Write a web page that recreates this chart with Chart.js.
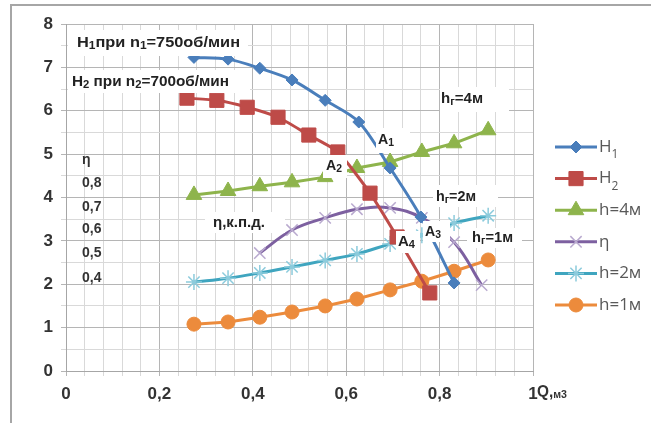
<!DOCTYPE html>
<html>
<head>
<meta charset="utf-8">
<script src="https://cdn.jsdelivr.net/npm/chart.js@4.4.1/dist/chart.umd.min.js"></script>
<style>
  html, body { margin: 0; padding: 0; background: #fff; }
</style>
</head>
<body>
<canvas id="pumpChart" width="651" height="423"></canvas>
<script>
// Q values, m3/s
const qH1 = [0.274, 0.347, 0.415, 0.484, 0.555, 0.627, 0.694, 0.760, 0.831];
const qH2 = [0.259, 0.323, 0.388, 0.454, 0.520, 0.582, 0.651, 0.709, 0.779];
const qPipe = [0.274, 0.347, 0.415, 0.484, 0.555, 0.623, 0.694, 0.762, 0.831, 0.904];
const qEta = [0.415, 0.484, 0.555, 0.623, 0.694, 0.762, 0.831, 0.890];

// heads, m (eta plotted on the same scale)
const headH1 = [7.23, 7.19, 6.98, 6.71, 6.24, 5.74, 4.68, 3.55, 2.03];
const headH2 = [6.29, 6.24, 6.08, 5.85, 5.44, 5.05, 4.10, 3.09, 1.80];
const pipeH4 = [4.06, 4.15, 4.26, 4.35, 4.47, 4.68, 4.82, 5.05, 5.25, 5.55];
const etaVals = [2.72, 3.25, 3.53, 3.73, 3.76, 3.53, 2.97, 1.98];
const pipeH2 = [2.05, 2.14, 2.26, 2.40, 2.55, 2.70, 2.93, 3.13, 3.41, 3.58];
const pipeH1 = [1.08, 1.13, 1.24, 1.36, 1.50, 1.66, 1.87, 2.07, 2.30, 2.56];

const etaTickLabels = ["η", "0,8", "0,7", "0,6", "0,5", "0,4"];

const FONT = "'Liberation Sans Narrow', 'Liberation Sans', Arial, sans-serif";
const LEGEND_FONT = "'Open Sans', 'Liberation Sans', sans-serif";

function pts(xs, ys) {
  return xs.map((x, i) => ({ x: x, y: ys[i] }));
}

// text notes on the plot: [boxX, boxY, boxW, boxH, textX, textY, textW, parts]
const notes = [
  [68, 30, 180, 26, 77, 43, 163, [["H", 0], ["1", 1], ["при n", 0], ["1", 1], ["=750об/мин", 0]]],
  [68, 70, 182, 23, 72, 82, 157, [["H", 0], ["2", 1], [" при n", 0], ["2", 1], ["=700об/мин", 0]]],
  [440, 87, 69, 25, 441, 99, 42, [["h", 0], ["г", 1], ["=4м", 0]]],
  [376, 128, 34, 25, 378, 140, 16, [["A", 0], ["1", 1]]],
  [323, 155, 24, 23, 326, 166, 16, [["A", 0], ["2", 1]]],
  [433, 185, 65, 22, 436, 197, 40, [["h", 0], ["г", 1], ["=2м", 0]]],
  [205, 212, 80, 21, 213, 223, 52, [["η,к.п.д.", 0]]],
  [396, 231, 24, 22, 398, 242, 17, [["A", 0], ["4", 1]]],
  [423, 221, 27, 21, 425, 232, 16, [["A", 0], ["3", 1]]],
  [467, 228, 55, 20, 472, 238, 41, [["h", 0], ["г", 1], ["=1м", 0]]],
];

function richWidth(ctx, parts, size, weight, family) {
  let w = 0;
  parts.forEach(([t, sub]) => {
    ctx.font = weight + " " + (sub ? Math.round(size * 0.7) : size) + "px " + family;
    w += ctx.measureText(t).width;
  });
  return w;
}

function drawRich(ctx, x, y, parts, size, targetW, weight, family, color, subDrop) {
  const w = richWidth(ctx, parts, size, weight, family);
  const sx = targetW ? targetW / w : 1;
  ctx.save();
  ctx.translate(x, y);
  ctx.scale(sx, 1);
  ctx.fillStyle = color;
  ctx.textBaseline = "middle";
  ctx.textAlign = "left";
  let cx = 0;
  parts.forEach(([t, sub]) => {
    ctx.font = weight + " " + (sub ? Math.round(size * 0.7) : size) + "px " + family;
    ctx.fillText(t, cx, sub ? size * subDrop : 0);
    cx += ctx.measureText(t).width;
  });
  ctx.restore();
}

const overlayPlugin = {
  id: "overlay",
  beforeDraw(chart) {
    const ctx = chart.ctx;
    ctx.save();
    ctx.strokeStyle = "#a6a6a6";
    ctx.lineWidth = 2;
    ctx.beginPath();
    ctx.moveTo(11, 424);
    ctx.lineTo(11, 5);
    ctx.lineTo(652, 5);
    ctx.stroke();
    ctx.restore();
  },
  afterDraw(chart) {
    const ctx = chart.ctx;
    notes.forEach(n => {
      ctx.fillStyle = "#fff";
      ctx.fillRect(n[0], n[1], n[2], n[3]);
      drawRich(ctx, n[4], n[5], n[7], 15, n[6], "bold", FONT, "#222", 0.2);
    });
    // eta scale labels
    etaTickLabels.forEach((t, i) => {
      const y = [160, 183, 207, 229, 253, 278][i];
      drawRich(ctx, 82, y, [[t, 0]], 14, null, "bold", FONT, "#333", 0);
    });
    // axis title after the "1" tick
    drawRich(ctx, 537, 393, [["Q,", 0], ["м3", 1]], 16, 30, "bold", FONT, "#333", 0.12);

    // legend: line with marker in the middle
    chart.data.datasets.forEach((ds, i) => {
      const y = 147 + i * 31.6;
      ctx.save();
      ctx.strokeStyle = ds.borderColor;
      ctx.lineWidth = 3;
      ctx.beginPath();
      ctx.moveTo(555, y);
      ctx.lineTo(597, y);
      ctx.stroke();
      ctx.fillStyle = ds.pointBackgroundColor;
      ctx.strokeStyle = ds.pointBorderColor;
      ctx.lineWidth = ds.pointBorderWidth;
      Chart.helpers.drawPoint(ctx, {
        pointStyle: ds.pointStyle,
        radius: ds.pointRadius,
        rotation: 0,
        borderWidth: ds.pointBorderWidth,
      }, 576, y);
      ctx.restore();
      drawRich(ctx, 599, y, ds.legendParts, 17, null, "normal", LEGEND_FONT, "#595959", 0.45);
    });
  },
};

function majorX(v) {
  return Math.abs(v / 0.2 - Math.round(v / 0.2)) < 1e-6;
}

const ctx = document.getElementById("pumpChart").getContext("2d");
new Chart(ctx, {
  type: "line",
  data: {
    datasets: [
      {
        label: "H1",
        legendParts: [["H", 0], ["1", 1]],
        data: pts(qH1, headH1),
        borderColor: "#4a7ebb",
        pointBackgroundColor: "#4a7ebb",
        pointBorderColor: "#4a7ebb",
        pointBorderWidth: 1,
        pointStyle: "rectRot",
        pointRadius: 6,
        borderWidth: 3,
        tension: 0.3,
      },
      {
        label: "H2",
        legendParts: [["H", 0], ["2", 1]],
        data: pts(qH2, headH2),
        borderColor: "#be4b48",
        pointBackgroundColor: "#be4b48",
        pointBorderColor: "#be4b48",
        pointBorderWidth: 1,
        pointStyle: "rect",
        pointRadius: 10,
        borderWidth: 3,
        tension: 0.2,
      },
      {
        label: "h=4м",
        legendParts: [["h=4м", 0]],
        data: pts(qPipe, pipeH4),
        borderColor: "#8eb44c",
        pointBackgroundColor: "#8eb44c",
        pointBorderColor: "#8eb44c",
        pointBorderWidth: 1,
        pointStyle: "triangle",
        pointRadius: 9,
        borderWidth: 3,
        tension: 0,
      },
      {
        label: "η",
        legendParts: [["η", 0]],
        data: pts(qEta, etaVals),
        borderColor: "#7d60a0",
        pointBackgroundColor: "#7d60a0",
        pointBorderColor: "#b9aacf",
        pointBorderWidth: 1.5,
        pointStyle: "crossRot",
        pointRadius: 8,
        borderWidth: 3,
        tension: 0.4,
      },
      {
        label: "h=2м",
        legendParts: [["h=2м", 0]],
        data: pts(qPipe, pipeH2),
        borderColor: "#3fa5bf",
        pointBackgroundColor: "#3fa5bf",
        pointBorderColor: "#8ccbdc",
        pointBorderWidth: 1.5,
        pointStyle: "star",
        pointRadius: 8,
        borderWidth: 3,
        tension: 0.4,
      },
      {
        label: "h=1м",
        legendParts: [["h=1м", 0]],
        data: pts(qPipe, pipeH1),
        borderColor: "#ec8b3c",
        pointBackgroundColor: "#ec8b3c",
        pointBorderColor: "#ec8b3c",
        pointBorderWidth: 1,
        pointStyle: "circle",
        pointRadius: 7,
        borderWidth: 3,
        tension: 0,
      },
    ],
  },
  options: {
    responsive: false,
    animation: false,
    layout: { padding: { left: 0, top: 24, right: 118, bottom: 0 } },
    plugins: {
      legend: { display: false },
      tooltip: { enabled: false },
    },
    scales: {
      x: {
        type: "linear",
        min: 0,
        max: 1,
        afterFit: (scale) => { scale.height = 52; },
        border: { color: "#a6a6a6", width: 1 },
        grid: {
          color: (c) => (majorX(c.tick.value) ? "#b5b5b5" : "#d9d9d9"),
          tickLength: 5,
        },
        ticks: {
          stepSize: 0.04,
          autoSkip: false,
          maxRotation: 0,
          padding: 8,
          color: "#333",
          font: { family: FONT, size: 17, weight: "bold" },
          callback: (v) => (majorX(v) ? String(Math.round(v * 10) / 10).replace(".", ",") : ""),
        },
      },
      y: {
        min: 0,
        max: 8,
        afterFit: (scale) => { scale.width = 66; },
        border: { color: "#a6a6a6", width: 1 },
        grid: {
          color: (c) => (Number.isInteger(c.tick.value) ? "#b5b5b5" : "#d9d9d9"),
          tickLength: 5,
        },
        ticks: {
          stepSize: 0.5,
          autoSkip: false,
          padding: 8,
          color: "#333",
          font: { family: FONT, size: 17, weight: "bold" },
          callback: (v) => (Number.isInteger(v) ? String(v) : ""),
        },
      },
    },
  },
  plugins: [overlayPlugin],
});
</script>
</body>
</html>
